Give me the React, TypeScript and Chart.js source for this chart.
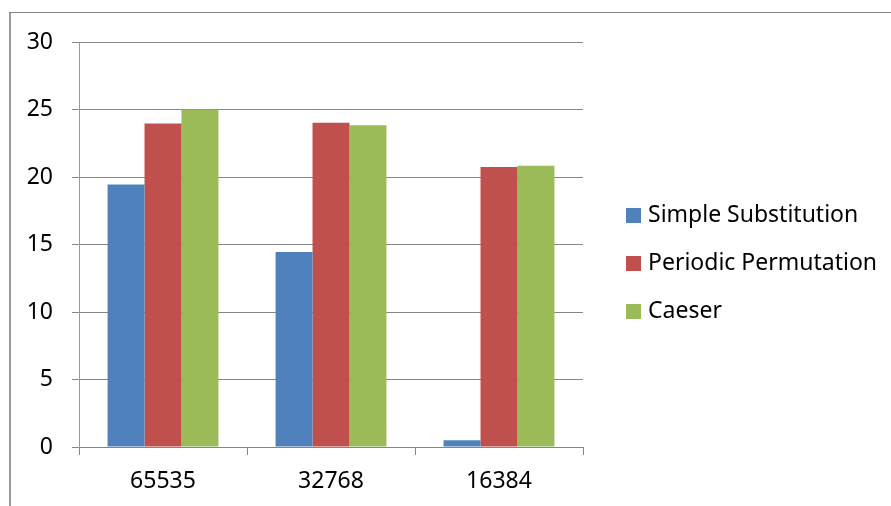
import React, { useEffect, useRef } from "react";
import { Chart, registerables } from "chart.js";

Chart.register(...registerables);

const categories = ["65535", "32768", "16384"];
const seriesNames = ["Simple Substitution", "Periodic Permutation", "Caeser"];
const simpleSubstitution = [19.45, 14.45, 0.5];
const periodicPermutation = [23.97, 24.02, 20.74];
const caeser = [25.0, 23.83, 20.84];
const seriesColors = ["#4F81BD", "#C0504D", "#9BBB59"];
const yTicks = [0, 5, 10, 15, 20, 25, 30];

const FONT = "'Noto Sans', sans-serif";
const FONT_SIZE = 23;

const framePlugin = {
  id: "frameAndLegend",
  beforeDraw(chart: any) {
    const ctx = chart.ctx;
    ctx.save();
    ctx.fillStyle = "#ffffff";
    ctx.fillRect(0, 0, chart.width, chart.height);
    ctx.fillStyle = "#9a9a9a";
    ctx.fillRect(9, 12, 2, chart.height - 12);
    ctx.fillStyle = "#868686";
    ctx.fillRect(9, 12, chart.width - 9, 1);
    ctx.restore();
  },
  afterDraw(chart: any) {
    const ctx = chart.ctx;
    ctx.save();
    ctx.font = `${FONT_SIZE}px ${FONT}`;
    ctx.textBaseline = "middle";
    ctx.textAlign = "left";
    chart.data.datasets.forEach((ds: any, i: number) => {
      const cy = 215 + i * 48;
      ctx.fillStyle = ds.backgroundColor;
      ctx.fillRect(626, cy - 7, 15, 15);
      ctx.fillStyle = "#000000";
      ctx.fillText(ds.label, 648, cy);
    });
    ctx.restore();
  },
};

export default function App() {
  const ref = useRef<HTMLCanvasElement | null>(null);

  useEffect(() => {
    document.body.style.margin = "0";
    const canvas = ref.current;
    if (!canvas) return;
    const values = [simpleSubstitution, periodicPermutation, caeser];
    const chart = new Chart(canvas, {
      type: "bar",
      data: {
        labels: categories,
        datasets: seriesNames.map((name, i) => ({
          label: name,
          data: values[i],
          backgroundColor: seriesColors[i],
          borderWidth: 0,
          barPercentage: 1,
          categoryPercentage: 0.66,
        })),
      },
      options: {
        responsive: false,
        animation: false,
        devicePixelRatio: 1,
        layout: { padding: { top: 42, right: 308, left: 0, bottom: 0 } },
        plugins: {
          legend: { display: false },
          tooltip: { enabled: false },
          title: { display: false },
        },
        scales: {
          x: {
            offset: true,
            grid: {
              offset: true,
              drawOnChartArea: false,
              drawTicks: true,
              tickLength: 8,
              color: "#868686",
              lineWidth: 1,
            },
            border: { display: true, color: "#868686", width: 1 },
            ticks: {
              color: "#000000",
              font: { family: FONT, size: FONT_SIZE },
              padding: 13,
              maxRotation: 0,
            },
            afterFit(scale: any) {
              scale.height = 59;
            },
          },
          y: {
            min: 0,
            max: 30,
            afterBuildTicks(scale: any) {
              scale.ticks = yTicks.map((v) => ({ value: v }));
            },
            grid: {
              color: "#868686",
              lineWidth: 1,
              drawTicks: true,
              tickLength: 7,
            },
            border: { display: true, color: "#9a9a9a", width: 1 },
            ticks: {
              color: "#000000",
              font: { family: FONT, size: FONT_SIZE },
              padding: 19,
            },
            afterFit(scale: any) {
              scale.width = 79;
            },
          },
        },
      },
      plugins: [framePlugin],
    });
    return () => chart.destroy();
  }, []);

  return (
    <div style={{ width: 891, height: 506, position: "relative" }}>
      <canvas ref={ref} width={891} height={506} style={{ display: "block" }} />
    </div>
  );
}
